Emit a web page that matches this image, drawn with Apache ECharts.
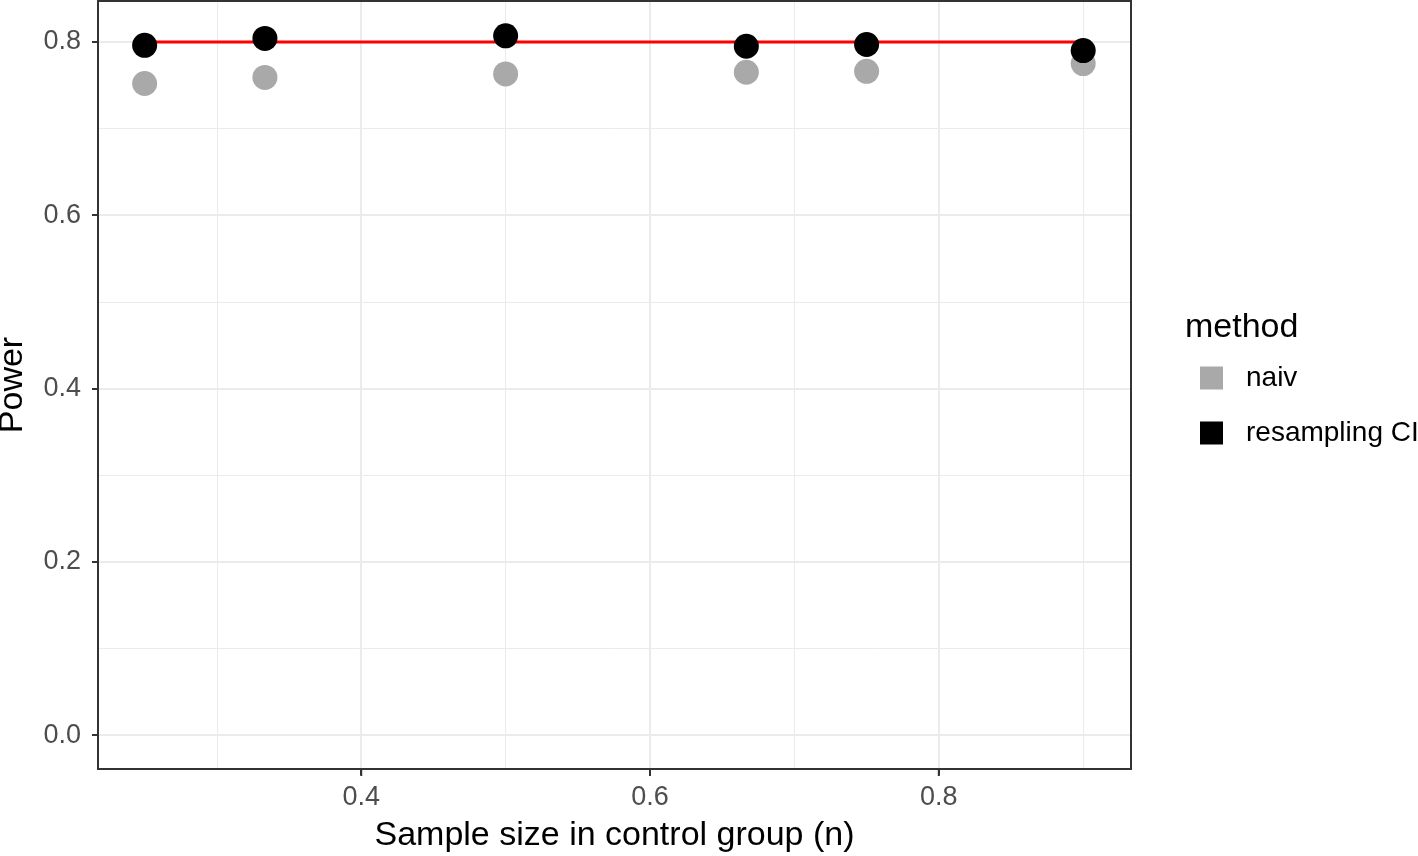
<!DOCTYPE html>
<html><head><meta charset="utf-8">
<script src="https://cdn.jsdelivr.net/npm/echarts@6/dist/echarts.min.js"></script>
<style>html,body{margin:0;padding:0;background:#fff}#c{width:1418px;height:856px}</style>
</head><body><div id="c"></div>
<script>
const xValues = [0.25, 0.3333, 0.5, 0.6667, 0.75, 0.9];
const naivPower = [0.752, 0.759, 0.763, 0.765, 0.766, 0.775];
const resamplingPower = [0.796, 0.804, 0.807, 0.795, 0.797, 0.790];
const targetPower = 0.8;
const xTicks = [0.4, 0.6, 0.8];
const xMinor = [0.3, 0.5, 0.7, 0.9];
const yTicks = [0, 0.2, 0.4, 0.6, 0.8];
const yMinor = [0.1, 0.3, 0.5, 0.7];
const seriesNames = ['naiv', 'resampling CI'];
const X_MIN = 0.2177, X_MAX = 0.9331, Y_MIN = -0.0391, Y_MAX = 0.8472;

const FONT = 'Liberation Sans, Arial, sans-serif';
const chart = echarts.init(document.getElementById('c'), null, {renderer: 'canvas'});
const gridLines = [];
xMinor.forEach(v => gridLines.push({xAxis: v, lineStyle: {width: 1}}));
yMinor.forEach(v => gridLines.push({yAxis: v, lineStyle: {width: 1}}));
xTicks.forEach(v => gridLines.push({xAxis: v, lineStyle: {width: 2}}));
yTicks.forEach(v => gridLines.push({yAxis: v, lineStyle: {width: 2}}));

chart.setOption({
  animation: false,
  backgroundColor: '#ffffff',
  grid: {left: 98, right: 287, top: 1, bottom: 87, outerBoundsMode: 'none', containLabel: false, show: true, borderColor: '#333333', borderWidth: 2, backgroundColor: 'transparent', z: 10},
  xAxis: {
    type: 'value', min: X_MIN, max: X_MAX, position: 'bottom',
    name: 'Sample size in control group (n)', nameLocation: 'middle', nameGap: 50,
    nameTextStyle: {fontFamily: FONT, fontSize: 34, color: '#000'},
    axisLine: {show: true, onZero: false, lineStyle: {color: '#333', width: 2}},
    axisTick: {show: true, inside: false, length: 6, lineStyle: {color: '#333', width: 2}, customValues: xTicks},
    axisLabel: {fontFamily: FONT, fontSize: 27, color: '#4d4d4d', margin: 15, customValues: xTicks, formatter: v => v.toFixed(1)},
    splitLine: {show: false}
  },
  yAxis: {
    type: 'value', min: Y_MIN, max: Y_MAX, position: 'left',
    name: 'Power', nameLocation: 'middle', nameGap: 68, nameRotate: 90,
    nameTextStyle: {fontFamily: FONT, fontSize: 34, color: '#000'},
    axisLine: {show: true, onZero: false, lineStyle: {color: '#333', width: 2}},
    axisTick: {show: true, inside: false, length: 6, lineStyle: {color: '#333', width: 2}, customValues: yTicks},
    axisLabel: {fontFamily: FONT, fontSize: 27, color: '#4d4d4d', margin: 17, customValues: yTicks, formatter: v => v.toFixed(1)},
    splitLine: {show: false}
  },
  title: {text: 'method', left: 1180, top: 306, textStyle: {fontFamily: FONT, fontSize: 34, fontWeight: 'normal', color: '#000'}},
  legend: {
    orient: 'vertical', left: 1195, top: 359, itemWidth: 23, itemHeight: 23, itemGap: 27,
    icon: 'rect', data: seriesNames,
    textStyle: {fontFamily: FONT, fontSize: 28, color: '#000', padding: [0,0,0,18]}
  },
  series: [
    {type: 'line', silent: true, data: [], z: 0, markLine: {silent: true, z: 0, symbol: 'none', label: {show: false}, lineStyle: {color: '#ebebeb', type: 'solid'}, data: gridLines}},
    {type: 'line', silent: true, data: [[xValues[0], targetPower], [xValues[xValues.length-1], targetPower]], showSymbol: false, lineStyle: {color: '#ff0000', width: 3}, z: 2},
    {name: seriesNames[0], type: 'scatter', data: xValues.map((x, i) => [x, naivPower[i]]), symbolSize: 25, itemStyle: {color: '#a9a9a9', opacity: 1}, z: 3},
    {name: seriesNames[1], type: 'scatter', data: xValues.map((x, i) => [x, resamplingPower[i]]), symbolSize: 25, itemStyle: {color: '#000000', opacity: 1}, z: 4}
  ]
});

// x-axis tick marks placed through the axis scale
const yBottom = chart.convertToPixel({yAxisIndex: 0}, Y_MIN);
chart.setOption({
  graphic: xTicks.map(v => {
    const px = chart.convertToPixel({xAxisIndex: 0}, v);
    return {type: 'line', silent: true, z: 20, shape: {x1: px, y1: yBottom, x2: px, y2: yBottom + 7}, style: {stroke: '#333333', lineWidth: 2}};
  })
});
</script></body></html>
